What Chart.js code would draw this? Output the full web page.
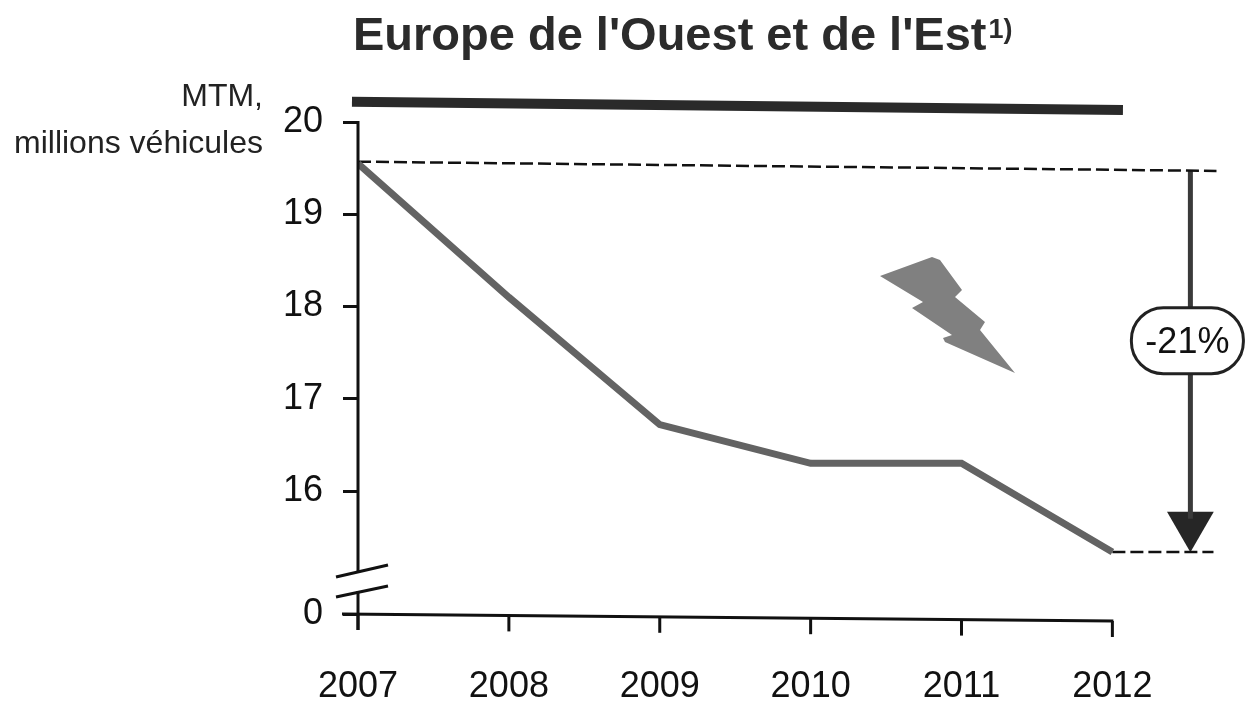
<!DOCTYPE html>
<html lang="fr">
<head>
<meta charset="utf-8">
<title>Europe de l'Ouest et de l'Est</title>
<script src="https://cdn.jsdelivr.net/npm/chart.js@4"></script>
<style>
	html, body { margin: 0; padding: 0; background: #fff; }
	canvas { display: block; }
</style>
</head>
<body>
<canvas id="graficoMtm" width="1245" height="706"></canvas>
<script>
var titre = "Europe de l'Ouest et de l'Est";
var noteTitre = '1)';
var uniteLignes = ['MTM,', 'millions véhicules'];
var annees = [2007, 2008, 2009, 2010, 2011, 2012];
var mtm = [19.55, 18.1, 16.72, 16.3, 16.3, 15.34];
var graduationsY = [20, 19, 18, 17, 16];
var etiquetteBas = '0';
var niveauHaut = [20.22, 20.13];
var niveauDepart = [19.57, 19.47];
var niveauFin = [15.34, 15.34];
var variation = '-21%';

// the axis is broken below 16: the "0" tick sits here on the scale
var BAS_AXE = 14.667;
var X_FLECHE = 2012.517;

var NOIR = '#111';
var FONTE_CHIFFRES = '"Liberation Sans", sans-serif';

var serieMtm = annees.map(function(annee, i) {
	return { x: annee, y: mtm[i] };
});

function segment(x1, y1, x2, y2) {
	return [{ x: x1, y: y1 }, { x: x2, y: y2 }];
}

function trait(ctx, x1, y1, x2, y2, largeur) {
	ctx.lineWidth = largeur;
	ctx.beginPath();
	ctx.moveTo(x1, y1);
	ctx.lineTo(x2, y2);
	ctx.stroke();
}

// axis lines with the break, the x axis leans slightly like on the scan
var pluginAxes = {
	id: 'axes',
	afterDatasetsDraw: function(chart) {
		var ctx = chart.ctx;
		var sx = chart.scales.x;
		var sy = chart.scales.y;
		var x0 = sx.getPixelForValue(annees[0]);
		var xFin = sx.getPixelForValue(annees[annees.length - 1]);
		var yBas = sy.getPixelForValue(BAS_AXE);
		var pente = 7 / (xFin - x0);

		ctx.save();
		ctx.strokeStyle = NOIR;
		ctx.lineCap = 'butt';
		trait(ctx, x0, sy.getPixelForValue(20) - 1, x0, yBas - 42, 3);
		trait(ctx, x0, yBas - 23, x0, yBas + 16, 3);
		trait(ctx, x0 - 22, yBas - 37, x0 + 30, yBas - 49, 3);
		trait(ctx, x0 - 22, yBas - 17, x0 + 30, yBas - 28, 3);
		trait(ctx, x0 - 16, yBas, xFin + 1, yBas + 7, 3);
		annees.forEach(function(annee) {
			var px = sx.getPixelForValue(annee);
			var py = yBas + (px - x0) * pente;
			trait(ctx, px, py, px, py + 16, 3);
		});
		ctx.restore();
	}
};

// title, unit, lightning and the -21% badge
var pluginTextes = {
	id: 'textes',
	afterDatasetsDraw: function(chart) {
		var ctx = chart.ctx;
		var sx = chart.scales.x;
		var sy = chart.scales.y;

		ctx.save();
		ctx.fillStyle = '#2b2b2b';
		ctx.textBaseline = 'alphabetic';
		ctx.textAlign = 'left';
		ctx.font = 'bold 47px "Liberation Sans", sans-serif';
		ctx.fillText(titre, 353, 50);
		var largeurTitre = ctx.measureText(titre).width;
		ctx.font = 'bold 27px "Liberation Sans", sans-serif';
		ctx.fillText(noteTitre, 353 + largeurTitre + 2, 38);

		ctx.fillStyle = '#222';
		ctx.textAlign = 'right';
		ctx.font = '32px "Liberation Sans", sans-serif';
		ctx.fillText(uniteLignes[0], 263, 106);
		ctx.fillText(uniteLignes[1], 263, 153);

		// lightning
		var eclair = [[880, 276], [932, 257], [940, 260], [962, 290], [955, 297], [985, 322],
			[980, 330], [1015, 373], [945, 342], [943, 338], [952, 335], [912, 308], [923, 302]];
		ctx.fillStyle = '#808080';
		ctx.beginPath();
		eclair.forEach(function(p, i) {
			if (i === 0) ctx.moveTo(p[0], p[1]);
			else ctx.lineTo(p[0], p[1]);
		});
		ctx.closePath();
		ctx.fill();

		// badge on the arrow
		var cx = sx.getPixelForValue(X_FLECHE) - 3;
		var cy = sy.getPixelForValue(17.64);
		ctx.fillStyle = '#fff';
		ctx.strokeStyle = '#222';
		ctx.lineWidth = 3;
		ctx.beginPath();
		ctx.roundRect(cx - 56, cy - 32, 112, 66, 32);
		ctx.fill();
		ctx.stroke();
		ctx.fillStyle = NOIR;
		ctx.textAlign = 'center';
		ctx.textBaseline = 'middle';
		ctx.font = '36px ' + FONTE_CHIFFRES;
		ctx.fillText(variation, cx, cy + 3);
		ctx.restore();
	}
};

var graficoMtm = new Chart(document.getElementById('graficoMtm'), {
	type: 'line',
	data: {
		datasets: [{
			label: 'MTM',
			data: serieMtm,
			borderColor: '#636363',
			borderWidth: 7,
			pointRadius: 0,
			tension: 0
		}, {
			label: 'Niveau haut',
			data: segment(2006.96, niveauHaut[0], 2012.07, niveauHaut[1]),
			borderColor: '#2a2a2a',
			borderWidth: 10,
			pointRadius: 0,
			clip: false
		}, {
			label: 'Niveau 2007',
			data: segment(annees[0], niveauDepart[0], 2012.69, niveauDepart[1]),
			borderColor: NOIR,
			borderWidth: 2.5,
			borderDash: [13, 5],
			pointRadius: 0,
			clip: false
		}, {
			label: 'Niveau 2012',
			data: segment(annees[5], niveauFin[0], 2012.67, niveauFin[1]),
			borderColor: NOIR,
			borderWidth: 2.5,
			borderDash: [13, 5],
			pointRadius: 0,
			clip: false
		}, {
			label: 'Flèche',
			data: segment(X_FLECHE, niveauDepart[1], X_FLECHE, 15.7),
			borderColor: '#3a3a3a',
			borderWidth: 5,
			pointRadius: 0
		}, {
			label: 'Pointe',
			data: [{ x: X_FLECHE, y: 15.63 }],
			showLine: false,
			pointStyle: 'triangle',
			rotation: 180,
			pointRadius: 27,
			pointBackgroundColor: '#262626',
			pointBorderWidth: 0
		}]
	},
	options: {
		responsive: false,
		animation: false,
		layout: { padding: { top: 90, right: 5 } },
		plugins: {
			legend: { display: false },
			tooltip: { enabled: false }
		},
		scales: {
			x: {
				type: 'linear',
				min: annees[0],
				max: 2012.7,
				afterFit: function(scale) { scale.height = 92; },
				afterBuildTicks: function(scale) {
					scale.ticks = annees.map(function(a) { return { value: a }; });
				},
				border: { display: false },
				grid: { display: false },
				ticks: {
					autoSkip: false,
					maxRotation: 0,
					padding: 43,
					color: NOIR,
					font: { family: FONTE_CHIFFRES, size: 36 },
					callback: function(value) { return String(value); }
				}
			},
			y: {
				type: 'linear',
				min: BAS_AXE,
				max: 20.347,
				afterFit: function(scale) { scale.width = 358; },
				afterBuildTicks: function(scale) {
					scale.ticks = graduationsY.concat([BAS_AXE]).map(function(v) { return { value: v }; });
				},
				border: { display: false },
				grid: {
					drawOnChartArea: false,
					drawTicks: true,
					tickLength: 15,
					lineWidth: 3,
					color: NOIR
				},
				ticks: {
					autoSkip: false,
					padding: 20,
					color: NOIR,
					font: { family: FONTE_CHIFFRES, size: 36 },
					callback: function(value) {
						return value === BAS_AXE ? etiquetteBas : String(value);
					}
				}
			}
		}
	},
	plugins: [pluginAxes, pluginTextes]
});
</script>
</body>
</html>
